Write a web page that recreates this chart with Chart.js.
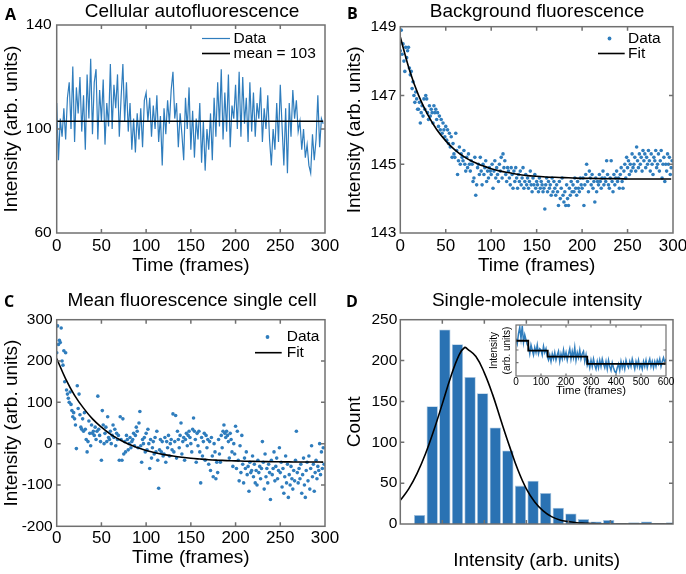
<!DOCTYPE html>
<html>
<head>
<meta charset="utf-8">
<script src="https://cdn.jsdelivr.net/npm/chart.js@4/dist/chart.umd.min.js"></script>
<style>
  body { margin: 0; background: #fff; }
  #figure { position: relative; width: 686px; height: 574px; background: #fff; }
  canvas { position: absolute; }
</style>
</head>
<body>
<div id="figure">
  <canvas id="panel_a" width="343" height="287" style="left:0;top:0"></canvas>
  <canvas id="panel_b" width="343" height="287" style="left:343px;top:0"></canvas>
  <canvas id="panel_c" width="343" height="287" style="left:0;top:287px"></canvas>
  <canvas id="panel_d" width="343" height="287" style="left:343px;top:287px"></canvas>
  <canvas id="panel_d_inset" width="190" height="82" style="left:486px;top:318px"></canvas>
</div>
<script>
// A: cellular autofluorescence, one value every 2 frames
const autofl_values = [
  110, 88, 104, 97, 108, 96, 112, 118, 100, 124,
  95, 116, 106, 120, 99, 113, 92, 121, 104, 127,
  98, 118, 123, 96, 115, 103, 119, 94, 110, 101,
  125, 100, 117, 108, 121, 97, 112, 125, 103, 118,
  99, 110, 92, 104, 91, 106, 96, 108, 93, 111,
  114, 103, 112, 97, 109, 100, 113, 95, 105, 86,
  108, 98, 111, 102, 115, 122, 104, 110, 93, 106,
  98, 88, 112, 100, 116, 92, 107, 89, 104, 96,
  110, 87, 103, 84, 100, 92, 106, 88, 112, 97,
  118, 101, 123, 96, 114, 99, 121, 93, 109, 104,
  117, 100, 122, 97, 120, 102, 112, 95, 118, 99,
  114, 97, 110, 104, 116, 95, 108, 100, 113, 96,
  86, 100, 92, 110, 95, 117, 101, 86, 108, 83,
  110, 97, 115, 104, 111, 99, 103, 92, 100, 89,
  94, 86, 83, 98, 88, 96, 113, 93, 104, 102
];
const autofl_mean = 103;
const autofl_mean_frames = [0, 298];

// B: background fluorescence, one value per frame
const background_values = [
  148.3, 148.9, 148.2, 148.5, 148.0, 147.7, 148.4, 148.1, 148.3, 148.4,
  147.8, 147.6, 147.7, 147.2, 147.4, 147.0, 146.8, 147.1, 146.9, 146.6,
  146.6, 146.8, 146.2, 146.5, 146.7, 146.4, 146.9, 146.6, 147.0, 146.9,
  146.5, 146.3, 146.7, 146.4, 146.6, 146.5, 146.2, 146.7, 146.5, 146.6,
  146.3, 146.5, 146.1, 146.4, 146.0, 146.3, 145.9, 146.2, 146.0, 145.8,
  146.1, 145.7, 146.0, 145.6, 145.9, 145.5, 145.8, 145.2, 145.6, 145.3,
  145.2, 145.9, 145.4, 144.7, 145.1, 145.5, 145.0, 145.3, 145.2, 145.1,
  145.4, 145.0, 144.8, 145.2, 144.9, 145.3, 145.0, 144.8, 145.1, 145.0,
  144.5, 144.6, 145.2, 144.1, 144.4, 144.9, 145.0, 144.7, 145.2, 144.8,
  144.4, 145.0, 144.7, 144.9, 145.1, 144.5, 144.8, 144.6, 144.9, 144.8,
  144.7, 145.0, 144.3, 144.8, 145.1, 144.6, 144.9, 144.7, 144.5, 145.0,
  144.8, 145.2, 144.6, 145.3, 144.9, 145.1, 144.7, 144.5, 144.9, 144.8,
  144.6, 144.4, 144.9, 144.7, 144.3, 144.8, 144.5, 144.9, 144.6, 144.3,
  144.7, 144.5, 144.8, 144.4, 144.6, 144.9, 144.3, 144.5, 144.7, 144.4,
  144.6, 144.3, 144.5, 144.8, 144.4, 144.2, 144.6, 144.4, 144.7, 144.3,
  144.5, 144.4, 144.2, 144.6, 144.3, 144.5, 144.4, 144.2, 144.3, 143.7,
  144.4, 144.6, 144.2, 144.5, 144.3, 144.4, 144.1, 144.6, 144.2, 144.5,
  144.3, 144.1, 144.4, 144.2, 143.8, 144.5, 144.0, 144.3, 144.6, 144.1,
  143.9, 144.2, 143.8, 144.4, 144.0, 143.8, 144.3, 144.1, 144.5, 144.2,
  144.4, 144.2, 144.6, 144.3, 144.1, 144.5, 144.3, 144.2, 144.6, 144.4,
  144.3, 144.6, 143.8, 144.4, 144.7, 145.0, 144.5, 144.2, 144.8, 144.6,
  144.4, 144.7, 144.3, 144.5, 143.9, 144.6, 144.2, 144.5, 144.4, 144.7,
  144.5, 144.3, 144.6, 144.8, 144.4, 144.6, 144.5, 145.1, 144.7, 144.4,
  144.3, 144.6, 145.1, 144.5, 144.2, 144.7, 144.4, 144.6, 144.8, 144.5,
  144.6, 144.3, 144.7, 144.9, 144.5, 144.3, 144.8, 145.0, 144.6, 145.2,
  144.9, 145.1, 144.7, 145.0, 144.8, 145.3, 144.9, 145.0, 145.2, 144.8,
  145.5, 145.1, 144.9, 145.3, 145.0, 145.2, 144.8, 145.4, 145.1, 145.3,
  144.9, 145.2, 145.0, 145.4, 145.1, 144.8, 145.3, 145.0, 144.7, 145.2,
  145.1, 145.4, 144.9, 145.0, 145.3, 144.8, 145.1, 145.4, 144.6, 145.0,
  145.2, 144.5, 145.0, 144.8, 145.3, 145.0, 145.2, 144.7, 144.9, 145.1
];

// fit curves of B and C, sampled every 10 frames
const fit_frames = [0, 10, 20, 30, 40, 50, 60, 70, 80, 90, 100, 110, 120, 130, 140, 150,
  160, 170, 180, 190, 200, 210, 220, 230, 240, 250, 260, 270, 280, 290, 298];
const background_fit = [148.70, 147.75, 147.01, 146.45, 146.01, 145.68, 145.42, 145.22,
  145.07, 144.96, 144.87, 144.80, 144.75, 144.70, 144.67, 144.65, 144.63, 144.62, 144.61,
  144.60, 144.59, 144.59, 144.58, 144.58, 144.58, 144.57, 144.57, 144.57, 144.57, 144.57, 144.57];

// C: mean fluorescence of a single cell, one value per frame
const cell_values = [
  220, 285, 240, 250, 245, 280, 200, 190, 225, 150,
  220, 130, 120, 110, 100, 125, 95, 80, 65, 75,
  60, 45, -12, 140, 85, 120, 70, 40, 35, 60,
  30, 75, 35, 10, -20, 5, 55, 25, -5, 45,
  25, 30, 20, 40, 10, 30, 115, 35, 20, 5,
  -40, 80, 45, 0, 25, 40, 5, 65, 15, 10,
  30, 0, 20, 45, 15, 35, -5, 25, 10, 20,
  -40, 65, 10, -40, 60, -25, 5, -20, 20, 10,
  -15, 0, 15, -10, 5, 10, 25, -5, 20, 40,
  30, -10, 50, 78, -5, -45, 10, 0, 15, -20,
  25, -15, 35, 0, -60, 10, -35, -10, 5, -25,
  15, -20, 30, -40, -108, -15, 10, -20, 5, -30,
  -25, 15, -45, 5, -10, 20, -30, 0, 10, -15,
  72, -20, 5, 68, -35, 30, 10, -10, 20, 50,
  -25, 5, 15, -40, 10, 25, -5, 20, 30, 15,
  0, -20, 35, 62, 30, 10, -45, 25, -5, 30,
  -20, -95, 15, -30, 5, 25, -40, 20, -10, 10,
  -50, 5, -65, 15, -30, -80, 0, -20, -85, -45,
  -70, 10, -25, -45, 20, -10, 30, 45, 25, 15,
  30, 20, 5, -35, 25, 10, -20, -55, 0, -25,
  42, -60, 30, -40, -90, -5, -70, 20, -50, -95,
  -35, -60, -20, -75, -55, -115, -45, -70, -65, -30,
  -80, -50, -95, -65, -100, -40, -70, -55, -85, -60,
  5, -45, -110, -25, -80, -60, -95, -50, -70, -135,
  -40, -75, -60, -20, -90, -55, -35, -85, -65, -10,
  -70, -45, -105, -60, -120, -80, -30, -95, -50, -130,
  -75, -100, -55, -85, -110, -65, -90, -40, 30, -70,
  -95, -60, -85, -50, -120, -75, -35, -100, -130, -65,
  -45, -90, -30, -110, -60, -5, -80, -50, -115, -70,
  -40, -85, -55, -65, 0, -75, -20, -60, -10, -50
];
const cell_fit = [206, 157, 117, 86, 60, 40, 23, 10, -1, -9.5, -16.5, -22, -26.5, -30, -33,
  -35.4, -37.2, -38.8, -40, -41, -41.7, -42.4, -42.9, -43.3, -43.6, -43.9, -44.1, -44.3,
  -44.4, -44.5, -44.6];

// D: single-molecule intensity histogram (bin centres in arbitrary intensity units)
const bin_centers = [0.46, 0.76, 1.06, 1.36, 1.66, 1.96, 2.26, 2.56, 2.86, 3.16, 3.46,
  3.76, 4.06, 4.36, 4.66, 4.96, 5.26, 5.56, 5.86, 6.16, 6.46];
const bin_counts = [11, 144, 238, 220, 180, 160, 118, 90, 47, 53, 38, 20, 13, 6, 3, 5, 1, 2, 3, 1, 2];
const gauss_x = [0, 0.2, 0.4, 0.6, 0.8, 1.0, 1.2, 1.4, 1.53, 1.6, 1.8, 2.0, 2.2, 2.4, 2.6,
  2.8, 3.0, 3.2, 3.4, 3.6, 3.8, 4.0, 4.2, 4.4, 4.6, 5.0, 6.5];
const gauss_y = [29, 43, 62, 86, 115, 147, 180, 207, 216, 214, 205, 185, 158, 126, 95,
  66, 43, 27, 16, 9, 5, 3, 1.5, 1, 0.5, 0, 0];

// D inset: single trace, one value every 5 frames, plus step fit
const trace_values = [
  2.9, 2.5, 3.3, 3.8, 2.9, 3.9, 2.6, 3.2, 2.8, 2.4,
  2.3, 1.7, 2.4, 2.0, 1.6, 2.2, 1.8, 2.4, 1.7, 2.1,
  2.0, 1.6, 2.3, 1.8, 2.1, 1.5, 1.2, 1.6, 1.1, 1.7,
  1.3, 1.8, 1.2, 1.6, 1.9, 1.1, 1.7, 1.3, 2.0, 1.4,
  1.8, 1.2, 1.7, 2.1, 1.3, 1.9, 1.4, 2.2, 1.2, 1.8,
  1.4, 2.0, 1.3, 1.7, 1.9, 1.1, 1.6, 0.8, 1.1, 0.6,
  1.2, 0.7, 1.3, 0.8, 0.5, 1.1, 0.6, 1.2, 0.7, 1.3,
  0.9, 0.6, 1.1, 0.5, 1.2, 0.7, 0.4, 1.0, 0.6, 0.3,
  0.2, 0.6, 0.9, 0.4, 1.1, 0.6, 1.0, 0.5, 1.2, 0.8,
  0.6, 1.1, 0.7, 1.3, 0.9, 0.5, 1.1, 0.7, 1.2, 0.6,
  0.9, 0.5, 1.1, 0.7, 1.2, 0.6, 1.0, 1.3, 0.7, 1.1,
  0.6, 1.1, 0.7, 1.2, 0.9, 1.3, 0.7, 1.1, 1.4, 1.0,
  1.3
];
const step_frames = [0, 49, 127, 285, 600];
const step_levels = [2.73, 1.95, 1.47, 0.9, 0.9];

const BLUE = '#2f7dbd';
const FONT = '"Liberation Sans", Arial, sans-serif';

/**
 * Draws the box around the plot area and MATLAB style inward tick marks.
 */
const frame_plugin = {
  id: 'frame',
  defaults: { color: '#707070', width: 1.5, tick_length: 4 },
  afterDatasetsDraw(chart, args, opts) {
    const {ctx, chartArea: a} = chart;
    ctx.save();
    ctx.strokeStyle = opts.color;
    ctx.lineWidth = opts.width;
    ctx.strokeRect(a.left, a.top, a.right - a.left, a.bottom - a.top);
    const len = opts.tick_length;
    for (const id of ['x', 'y']) {
      const scale = chart.scales[id];
      for (const t of scale.ticks) {
        if (t.value <= scale.min || t.value >= scale.max) continue;
        const p = scale.getPixelForValue(t.value);
        ctx.beginPath();
        if (id === 'x') {
          ctx.moveTo(p, a.bottom); ctx.lineTo(p, a.bottom - len);
          ctx.moveTo(p, a.top); ctx.lineTo(p, a.top + len);
        } else {
          ctx.moveTo(a.left, p); ctx.lineTo(a.left + len, p);
          ctx.moveTo(a.right, p); ctx.lineTo(a.right - len, p);
        }
        ctx.stroke();
      }
    }
    ctx.restore();
  }
};

/**
 * Panel letter, panel title and a small legend, all placed in canvas pixels.
 */
const panel_text_plugin = {
  id: 'panel_text',
  afterDraw(chart, args, opts) {
    if (!opts || !opts.title) return;
    const ctx = chart.ctx;
    ctx.save();
    ctx.fillStyle = '#000';
    ctx.textBaseline = 'middle';
    ctx.textAlign = 'left';
    ctx.font = 'bold 16px "Open Sans", sans-serif';
    ctx.fillText(opts.letter, opts.letter_pos[0], opts.letter_pos[1]);
    ctx.font = '19px ' + FONT;
    ctx.textAlign = 'center';
    ctx.fillText(opts.title, opts.title_pos[0], opts.title_pos[1]);
    ctx.textAlign = 'left';
    ctx.font = '15.5px ' + FONT;
    for (const item of opts.legend || []) {
      if (item.kind === 'dot') {
        ctx.fillStyle = BLUE;
        ctx.beginPath();
        ctx.arc((item.x0 + item.x1) / 2, item.y, 1.9, 0, 2 * Math.PI);
        ctx.fill();
      } else {
        ctx.strokeStyle = item.color;
        ctx.lineWidth = item.width;
        ctx.beginPath();
        ctx.moveTo(item.x0, item.y);
        ctx.lineTo(item.x1, item.y);
        ctx.stroke();
      }
      ctx.fillStyle = '#000';
      ctx.fillText(item.label, item.text_x, item.y);
    }
    ctx.restore();
  }
};

function fix_size(prop, value) {
  return (scale) => {
    scale[prop] = value;
    scale.paddingLeft = 0;
    scale.paddingRight = 0;
    scale.paddingTop = 0;
    scale.paddingBottom = 0;
  };
}

/**
 * Shared options: the plot area is pinned through layout padding plus fixed
 * axis sizes so that every panel lines up with the figure.
 */
function panel_options(cfg) {
  return {
    responsive: false,
    animation: false,
    devicePixelRatio: 1,
    layout: { padding: cfg.padding },
    plugins: {
      legend: { display: false },
      tooltip: { enabled: false },
      title: { display: false },
      frame: cfg.frame || {},
      panel_text: cfg.text
    },
    scales: {
      x: {
        type: 'linear',
        min: cfg.x.min,
        max: cfg.x.max,
        offset: false,
        grid: { display: false, drawTicks: false },
        border: { display: false },
        ticks: {
          display: cfg.x.labels !== false,
          stepSize: cfg.x.step,
          autoSkip: false,
          maxRotation: 0,
          padding: cfg.x.pad,
          color: '#000',
          font: { family: FONT, size: cfg.x.font || 17 }
        },
        title: {
          display: true,
          text: cfg.x.title,
          color: '#000',
          padding: 0,
          font: { family: FONT, size: cfg.x.title_font || 19 }
        },
        afterFit: fix_size('height', cfg.x.size)
      },
      y: {
        type: 'linear',
        min: cfg.y.min,
        max: cfg.y.max,
        grid: { display: false, drawTicks: false },
        border: { display: false },
        ticks: {
          display: cfg.y.labels !== false,
          stepSize: cfg.y.step,
          autoSkip: false,
          padding: cfg.y.pad,
          color: '#000',
          font: { family: FONT, size: cfg.y.font || 15.5 }
        },
        title: {
          display: true,
          text: cfg.y.title,
          color: '#000',
          padding: 0,
          font: { family: FONT, size: cfg.y.title_font || 19, lineHeight: cfg.y.title_line || 1.2 }
        },
        afterFit: fix_size('width', cfg.y.size)
      }
    }
  };
}

function as_points(values, spacing) {
  return values.map((v, i) => ({x: i * spacing, y: v}));
}

function as_xy(xs, ys) {
  return xs.map((x, i) => ({x: x, y: ys[i]}));
}

// order: 1 puts the measured data underneath, black fits (order 0) on top
function init_figure() {
  new Chart(document.getElementById('panel_a'), {
    type: 'line',
    data: {
      datasets: [{
        data: as_points(autofl_values, 2),
        borderColor: BLUE,
        borderWidth: 1.2,
        pointRadius: 0,
        tension: 0,
        order: 1
      }, {
        data: as_xy(autofl_mean_frames, [autofl_mean, autofl_mean]),
        borderColor: '#000',
        borderWidth: 1.6,
        pointRadius: 0,
        order: 0
      }]
    },
    options: panel_options({
      padding: { left: 0.8, top: 25, right: 18, bottom: 9.8 },
      x: { min: 0, max: 300, step: 50, pad: 3.5, size: 44.2, title: 'Time (frames)' },
      y: { min: 60, max: 140, step: 40, pad: 5, size: 55.9, title: 'Intensity (arb. units)' },
      text: {
        letter: 'A', letter_pos: [5, 15],
        title: 'Cellular autofluorescence', title_pos: [192, 12],
        legend: [
          { kind: 'line', color: BLUE, width: 1.2, x0: 202, x1: 230, y: 38.5, label: 'Data', text_x: 233.5 },
          { kind: 'line', color: '#000', width: 1.6, x0: 202, x1: 230, y: 53.5, label: 'mean = 103', text_x: 233.5 }
        ]
      }
    }),
    plugins: [frame_plugin, panel_text_plugin]
  });

  new Chart(document.getElementById('panel_b'), {
    type: 'scatter',
    data: {
      datasets: [{
        data: as_points(background_values, 1),
        backgroundColor: BLUE,
        borderWidth: 0,
        pointRadius: 1.8,
        order: 1
      }, {
        type: 'line',
        data: as_xy(fit_frames, background_fit),
        borderColor: '#000',
        borderWidth: 1.6,
        pointRadius: 0,
        tension: 0.4,
        order: 0
      }]
    },
    options: panel_options({
      padding: { left: 0.8, top: 26.7, right: 13, bottom: 9.8 },
      x: { min: 0, max: 300, step: 50, pad: 3.5, size: 44.2, title: 'Time (frames)' },
      y: { min: 143, max: 149, step: 2, pad: 4, size: 56.5, title: 'Intensity (arb. units)' },
      text: {
        letter: 'B', letter_pos: [4, 14],
        title: 'Background fluorescence', title_pos: [194, 12],
        legend: [
          { kind: 'dot', x0: 262, x1: 271, y: 38.5, label: 'Data', text_x: 285 },
          { kind: 'line', color: '#000', width: 1.6, x0: 255, x1: 281.7, y: 53.5, label: 'Fit', text_x: 285 }
        ]
      }
    }),
    plugins: [frame_plugin, panel_text_plugin]
  });

  new Chart(document.getElementById('panel_c'), {
    type: 'scatter',
    data: {
      datasets: [{
        data: as_points(cell_values, 1),
        backgroundColor: BLUE,
        borderWidth: 0,
        pointRadius: 1.8,
        order: 1
      }, {
        type: 'line',
        data: as_xy(fit_frames, cell_fit),
        borderColor: '#000',
        borderWidth: 1.6,
        pointRadius: 0,
        tension: 0.4,
        order: 0
      }]
    },
    options: panel_options({
      padding: { left: 0.8, top: 32.7, right: 18, bottom: 5.1 },
      x: { min: 0, max: 300, step: 50, pad: 1.5, size: 42.6, title: 'Time (frames)' },
      y: { min: -200, max: 300, step: 100, pad: 4, size: 55.9, title: 'Intensity (arb. units)' },
      text: {
        letter: 'C', letter_pos: [4, 15],
        title: 'Mean fluorescence single cell', title_pos: [192, 13.5],
        legend: [
          { kind: 'dot', x0: 263, x1: 272, y: 50, label: 'Data', text_x: 286.7 },
          { kind: 'line', color: '#000', width: 1.6, x0: 255, x1: 281.7, y: 65.7, label: 'Fit', text_x: 286.7 }
        ]
      }
    }),
    plugins: [frame_plugin, panel_text_plugin]
  });

  new Chart(document.getElementById('panel_d'), {
    type: 'bar',
    data: {
      datasets: [{
        data: as_xy(bin_centers, bin_counts),
        backgroundColor: '#2a72b3',
        borderColor: '#a9c6df',
        borderWidth: 0.8,
        barPercentage: 0.9,
        categoryPercentage: 1.0,
        order: 1
      }, {
        type: 'line',
        data: as_xy(gauss_x, gauss_y),
        borderColor: '#000',
        borderWidth: 1.6,
        pointRadius: 0,
        tension: 0.4,
        order: 0
      }]
    },
    options: panel_options({
      padding: { left: 0.8, top: 32.7, right: 13, bottom: 1.8 },
      x: { min: 0, max: 6.49, step: 1, pad: 2, size: 48.2, labels: false, title: 'Intensity (arb. units)' },
      y: { min: 0, max: 250, step: 50, pad: 3, size: 56.5, title: 'Count' },
      text: {
        letter: 'D', letter_pos: [3, 15],
        title: 'Single-molecule intensity', title_pos: [194, 13.5],
        legend: []
      }
    }),
    plugins: [frame_plugin, panel_text_plugin]
  });

  new Chart(document.getElementById('panel_d_inset'), {
    type: 'line',
    data: {
      datasets: [{
        data: as_points(trace_values, 5),
        borderColor: BLUE,
        borderWidth: 1.5,
        pointRadius: 0,
        tension: 0,
        order: 1
      }, {
        // hold each level until the next change point
        data: as_xy(step_frames, step_levels),
        borderColor: '#000',
        borderWidth: 1.8,
        pointRadius: 0,
        stepped: 'before',
        order: 0
      }]
    },
    options: panel_options({
      padding: { left: 2.4, top: 7, right: 10, bottom: 2.7 },
      x: { min: 0, max: 600, step: 100, pad: 0, size: 21.3, font: 10, title_font: 11.3, title: 'Time (frames)' },
      y: { min: -0.05, max: 3.97, step: 1, pad: 2, size: 27.6, labels: false, title_font: 10,
           title_line: 1.26, title: ['Intensity', '(arb. units)'] },
      frame: { width: 1.2, tick_length: 2.5 },
      text: null
    }),
    plugins: [frame_plugin, panel_text_plugin]
  });
}

init_figure();
</script>
</body>
</html>
